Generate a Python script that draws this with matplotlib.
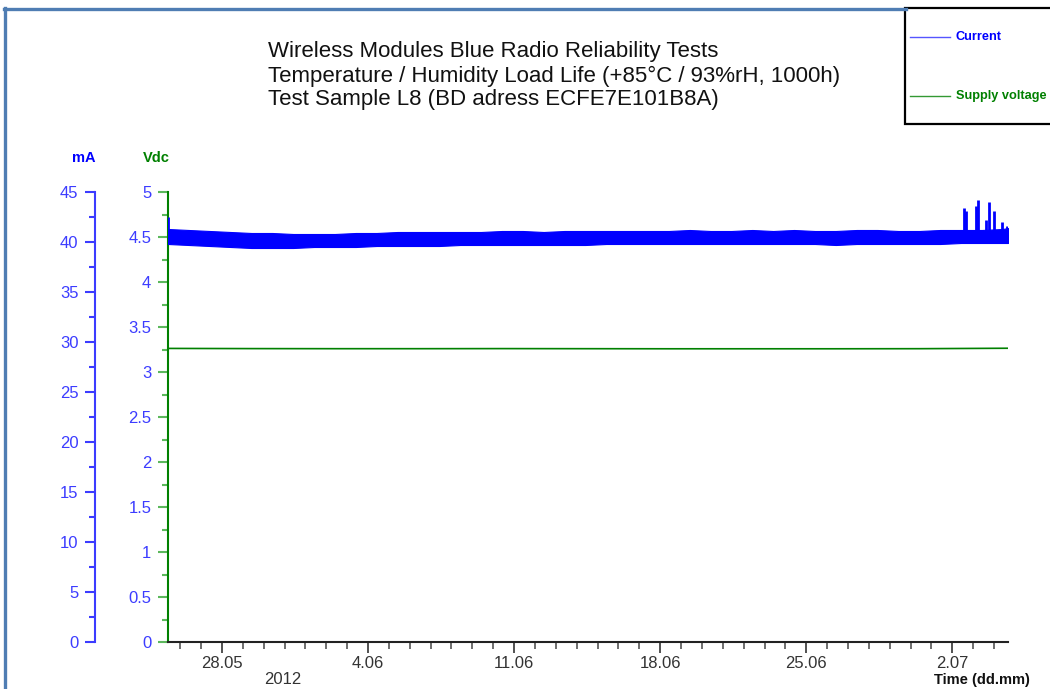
import numpy as np
import pandas as pd
import matplotlib
matplotlib.use("Agg")
import matplotlib.pyplot as plt
import matplotlib.dates as mdates
from matplotlib.ticker import MultipleLocator, FuncFormatter
from matplotlib.patches import Rectangle
from matplotlib.lines import Line2D

plt.rcParams['font.family'] = ['Liberation Sans', 'DejaVu Sans']

W, H = 1050, 689

# test run window
test_start = pd.Timestamp("2012-05-25 10:00")
test_end = pd.Timestamp("2012-07-04 16:00")

# current band, read once per day of the run (mA)
current_days = list(range(41)) + [40.25]
current_upper = [41.3, 41.2, 41.1, 41.0, 40.9, 40.9, 40.8, 40.8, 40.8, 40.9,
                 40.9, 41.0, 41.0, 41.0, 41.0, 41.0, 41.1, 41.1, 41.0, 41.1,
                 41.1, 41.1, 41.1, 41.1, 41.1, 41.2, 41.1, 41.1, 41.2, 41.1,
                 41.2, 41.1, 41.1, 41.2, 41.2, 41.1, 41.1, 41.2, 41.2, 41.2,
                 41.3, 41.4]
current_lower = [39.8, 39.7, 39.6, 39.5, 39.4, 39.4, 39.4, 39.5, 39.5, 39.5,
                 39.6, 39.6, 39.6, 39.6, 39.7, 39.7, 39.7, 39.7, 39.7, 39.7,
                 39.7, 39.8, 39.8, 39.8, 39.8, 39.8, 39.8, 39.8, 39.8, 39.8,
                 39.8, 39.8, 39.7, 39.8, 39.8, 39.8, 39.8, 39.8, 39.9, 39.9,
                 39.9, 39.9]

# current spikes (day of run, peak mA)
spike_days = [0.0, 38.15, 38.25, 38.7, 38.8, 39.2, 39.35, 39.6, 39.95, 40.2]
spike_peaks = [42.5, 43.4, 43.1, 43.6, 44.2, 42.2, 44.0, 43.1, 42.0, 41.6]

# supply voltage (Vdc)
volt_days = [0, 4, 8, 12, 16, 20, 24, 28, 32, 36, 40.25]
volt_values = [3.262, 3.260, 3.259, 3.259, 3.260, 3.259, 3.258, 3.258, 3.258, 3.259, 3.264]

title_lines = ["Wireless Modules Blue Radio Reliability Tests",
               "Temperature / Humidity Load Life (+85\u00b0C / 93%rH, 1000h)",
               "Test Sample L8 (BD adress ECFE7E101B8A)"]

BLUE = "#0000ff"
AXBLUE = "#3c3cff"
GREEN = "#008000"
FRAME = "#4f7db3"


def fx(x):
    return x / W


def fy(y):
    return 1 - y / H


t0 = mdates.date2num(test_start)
t1 = mdates.date2num(test_end)

fig = plt.figure(figsize=(W / 100, H / 100), dpi=100)
ax = fig.add_axes([fx(168), fy(642), (1008 - 168) / W, (642 - 192) / H])
ax_ma = ax.twinx()

# current on the mA axis
cx = t0 + np.array(current_days)
ax_ma.fill_between(cx, current_lower, current_upper, color=BLUE, lw=0.8)
sx = t0 + np.array(spike_days)
ax_ma.vlines(sx, 40.5, spike_peaks, color=BLUE, lw=2.0)

# voltage on the Vdc axis
vx = t0 + np.array(volt_days)
ax.plot(vx, volt_values, color=GREEN, lw=1.2)

# x axis
ax.set_xlim(t0, t1)
ax.xaxis.set_major_locator(mdates.WeekdayLocator(byweekday=mdates.MO))
ax.xaxis.set_minor_locator(mdates.DayLocator())
ax.xaxis.set_major_formatter(FuncFormatter(
    lambda v, p: "%d.%02d" % (mdates.num2date(v).day, mdates.num2date(v).month)))
ax.tick_params(axis="x", which="major", length=8, width=1.2, color="#333333",
               labelsize=12, labelcolor="#333333", pad=2)
ax.tick_params(axis="x", which="minor", length=5, width=1.2, color="#555555")

# Vdc axis
ax.set_ylim(0, 5)
ax.yaxis.set_major_locator(MultipleLocator(0.5))
ax.yaxis.set_minor_locator(MultipleLocator(0.25))
ax.yaxis.set_major_formatter(FuncFormatter(lambda v, p: "%g" % v))
ax.tick_params(axis="y", which="major", length=7, width=1.5, color="#5cb85c",
               labelsize=12, labelcolor=AXBLUE, pad=5)
ax.tick_params(axis="y", which="minor", length=4, width=1.5, color="#5cb85c")
ax.spines["left"].set_color(GREEN)
ax.spines["left"].set_linewidth(1.5)
ax.spines["bottom"].set_color("#222222")
ax.spines["bottom"].set_linewidth(1.5)
ax.spines["top"].set_visible(False)
ax.spines["right"].set_visible(False)

# mA axis
ax_ma.set_ylim(0, 45)
ax_ma.yaxis.set_major_locator(MultipleLocator(5))
ax_ma.yaxis.set_minor_locator(MultipleLocator(2.5))
ax_ma.yaxis.set_ticks_position("left")
ax_ma.spines["left"].set_visible(True)
ax_ma.spines["left"].set_position(("axes", -73 / 840))
ax_ma.spines["left"].set_color(AXBLUE)
ax_ma.spines["left"].set_linewidth(1.5)
for s in ["right", "top", "bottom"]:
    ax_ma.spines[s].set_visible(False)
ax_ma.tick_params(axis="y", which="major", length=7, width=1.5, color=AXBLUE,
                  labelsize=12, labelcolor=AXBLUE, pad=5)
ax_ma.tick_params(axis="y", which="minor", length=4, width=1.5, color=AXBLUE)

# axis titles
fig.text(fx(84), fy(158), "mA", color=BLUE, fontsize=10.5, fontweight="bold",
         ha="center", va="center")
fig.text(fx(156), fy(158), "Vdc", color=GREEN, fontsize=10.5, fontweight="bold",
         ha="center", va="center")
fig.text(fx(283), fy(680), "2012", color="#333333", fontsize=12,
         ha="center", va="center")
fig.text(fx(1030), fy(680), "Time (dd.mm)", color="#111111", fontsize=10.5,
         fontweight="bold", ha="right", va="center")

# title
for i, line in enumerate(title_lines):
    fig.text(fx(268), fy(52 + 24 * i), line, fontsize=16, color="#111111",
             ha="left", va="center")

# outer frame
fig.add_artist(Line2D([fx(5), fx(5)], [fy(8), 0], color=FRAME, lw=2.4,
                      transform=fig.transFigure))
fig.add_artist(Line2D([fx(4), fx(906)], [fy(9), fy(9)], color=FRAME, lw=2.4,
                      transform=fig.transFigure))

# legend box (runs off the right edge, as in the source)
fig.add_artist(Rectangle((fx(905), fy(124)), fx(200), (124 - 8) / H,
                         transform=fig.transFigure, facecolor="white",
                         edgecolor="black", lw=1.6))
legend_items = [("Current", BLUE, "#5555ff", 37), ("Supply voltage", GREEN, "#339933", 96)]
for label, tcol, lcol, y in legend_items:
    fig.add_artist(Line2D([fx(910), fx(950)], [fy(y), fy(y)], color=lcol, lw=1.0,
                          transform=fig.transFigure))
    fig.text(fx(956), fy(y), label, color=tcol, fontsize=9.2, fontweight="bold",
             ha="left", va="center")

fig.savefig("out.png", dpi=100)
